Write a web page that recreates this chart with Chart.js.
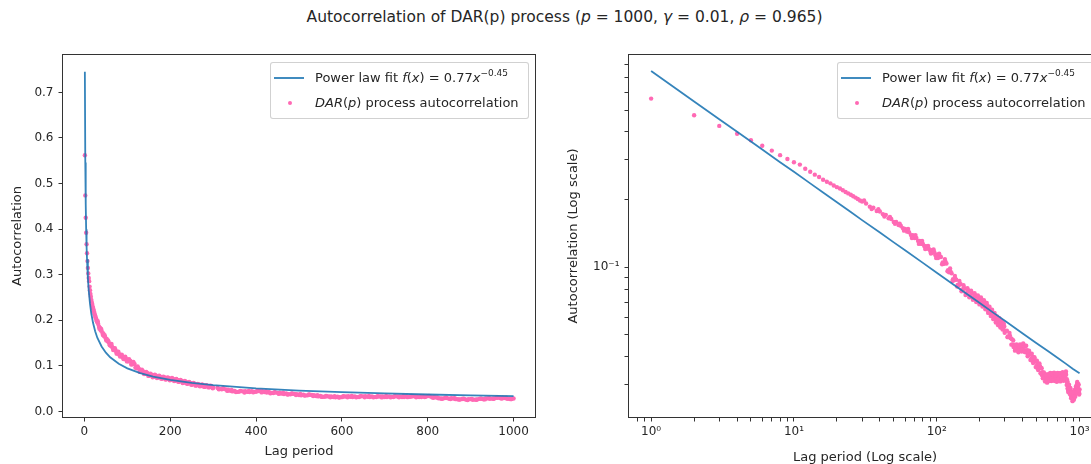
<!DOCTYPE html>
<html>
<head>
<meta charset="utf-8">
<script src="https://cdn.jsdelivr.net/npm/chart.js@4.4.0/dist/chart.umd.min.js"></script>
<style>
  html, body { margin: 0; padding: 0; background: #fff; }
  body { width: 1091px; height: 464px; overflow: hidden; position: relative; font-family: "DejaVu Sans", sans-serif; color: #262626; }
  canvas { position: absolute; top: 0; }
  #leftChart { left: 0; }
  #rightChart { left: 545px; }
  .suptitle { position: absolute; top: 8px; left: 0; width: 1129px; text-align: center; font-size: 15.5px; white-space: nowrap; }
  .legend { position: absolute; top: 62px; width: 257px; height: 55px; border: 1px solid rgba(204,204,204,0.9); border-radius: 3px; background: rgba(255,255,255,0.8); font-size: 13px; }
  .legend .row { position: absolute; left: 44px; white-space: nowrap; line-height: 15px; }
  .legend .swatch-line { position: absolute; left: 3px; width: 30px; height: 2px; background: #1f77b4; opacity: 0.85; }
  .legend .swatch-dot { position: absolute; left: 17px; width: 4px; height: 4px; border-radius: 50%; background: hotpink; }
  sup { font-size: 9px; vertical-align: 6px; line-height: 0; }
</style>
</head>
<body>
<div class="suptitle">Autocorrelation of DAR(p) process (<i>p</i> = 1000, <i>γ</i> = 0.01, <i>ρ</i> = 0.965)</div>
<canvas id="leftChart" width="545" height="464"></canvas>
<canvas id="rightChart" width="575" height="464"></canvas>

<div class="legend" style="left:270px">
  <div class="swatch-line" style="top:14px"></div>
  <div class="row" style="top:7px">Power law fit <i>f</i>(<i>x</i>) = 0.77<i>x</i><sup>−0.45</sup></div>
  <div class="swatch-dot" style="top:38px"></div>
  <div class="row" style="top:32px"><i>DAR</i>(<i>p</i>) process autocorrelation</div>
</div>
<div class="legend" style="left:837px">
  <div class="swatch-line" style="top:14px"></div>
  <div class="row" style="top:7px">Power law fit <i>f</i>(<i>x</i>) = 0.77<i>x</i><sup>−0.45</sup></div>
  <div class="swatch-dot" style="top:38px"></div>
  <div class="row" style="top:32px"><i>DAR</i>(<i>p</i>) process autocorrelation</div>
</div>

<script>
// power law fit
const fitLags = [1, 2, 3, 4, 5, 6, 8, 10, 13, 16, 20, 25, 30, 40, 50, 60, 80, 100, 130, 160, 200, 250, 300, 400, 500, 600, 700, 800, 900, 1000];
const fitValues = [0.745, 0.546, 0.455, 0.400, 0.362, 0.334, 0.293, 0.2655, 0.236, 0.215, 0.1946, 0.176, 0.162, 0.1426, 0.129, 0.119, 0.1046, 0.0946, 0.0841, 0.0767, 0.0694, 0.0627, 0.0578, 0.0508, 0.046, 0.0424, 0.0396, 0.0373, 0.0353, 0.0338];

// DAR(p) autocorrelation (sampled lags)
const darLags = [
  1, 2, 3, 4, 5, 6, 7, 8, 9, 10, 11, 12, 13, 14, 15, 16, 17, 18, 19, 20, 21, 22, 23, 24, 25, 26, 27, 28, 29, 30,
  32, 34, 36, 38, 40, 42, 44, 46, 48, 50, 52, 54, 56, 58, 60, 62, 64, 66, 68, 70, 72, 74, 76, 78, 80, 82, 84, 86, 88, 90, 92, 94, 96, 98, 100,
  105, 110, 115, 120, 125, 130, 135, 140, 145, 150, 155, 160, 165, 170, 175, 180, 185, 190, 195, 200,
  205, 210, 215, 220, 225, 230, 235, 240, 245, 250, 255, 260, 265, 270, 275, 280, 285, 290, 295, 300,
  310, 320, 330, 340, 350, 360, 370, 380, 390, 400, 410, 420, 430, 440, 450, 460, 470, 480, 490, 500,
  510, 520, 530, 540, 550, 560, 570, 580, 590, 600, 610, 620, 630, 640, 650, 660, 670, 680, 690, 700,
  710, 720, 730, 740, 750, 760, 770, 780, 790, 800, 810, 820, 830, 840, 850, 860, 870, 880, 890, 900,
  910, 920, 930, 940, 950, 960, 970, 980, 990, 1000
];
const darValues = [
  0.562, 0.474, 0.425, 0.392, 0.367, 0.347, 0.330, 0.315, 0.303, 0.293, 0.286, 0.274, 0.266, 0.258, 0.252, 0.245, 0.240, 0.236, 0.231, 0.227, 0.224, 0.220, 0.216, 0.213, 0.210, 0.207, 0.204, 0.201, 0.198, 0.196,
  0.192, 0.186, 0.184, 0.178, 0.177, 0.172, 0.171, 0.165, 0.164, 0.159, 0.159, 0.154, 0.153, 0.149, 0.148, 0.144, 0.143, 0.139, 0.139, 0.135, 0.135, 0.131, 0.131, 0.127, 0.127, 0.124, 0.124, 0.121, 0.121, 0.118, 0.119, 0.116, 0.117, 0.113, 0.114,
  0.112, 0.105, 0.106, 0.097, 0.0955, 0.0885, 0.089, 0.0835, 0.0848, 0.0795, 0.081, 0.0765, 0.079, 0.075, 0.077, 0.073, 0.075, 0.0712, 0.0735, 0.0698,
  0.0718, 0.0682, 0.0698, 0.0662, 0.0678, 0.0638, 0.0652, 0.0618, 0.0632, 0.0598, 0.0612, 0.0579, 0.0592, 0.0564, 0.0581, 0.0549, 0.0566, 0.0539, 0.0551, 0.0521,
  0.0522, 0.0489, 0.0484, 0.0454, 0.0453, 0.0432, 0.0442, 0.0431, 0.0446, 0.0435, 0.0444, 0.0427, 0.0428, 0.0406, 0.0410, 0.0392, 0.0399, 0.0379, 0.0383, 0.0364,
  0.0371, 0.0355, 0.0361, 0.0339, 0.0342, 0.0324, 0.0331, 0.0316, 0.0326, 0.0315, 0.0331, 0.0321, 0.0332, 0.0319, 0.0333, 0.0322, 0.0332, 0.0318, 0.0329, 0.0319,
  0.0333, 0.0320, 0.0330, 0.0319, 0.0334, 0.0324, 0.0333, 0.0316, 0.0334, 0.0338, 0.0312, 0.0308, 0.0286, 0.0296, 0.0281, 0.0287, 0.0269, 0.0276, 0.0260, 0.0271,
  0.0262, 0.0278, 0.0270, 0.0288, 0.0284, 0.0302, 0.0292, 0.0298, 0.0279, 0.0286
];

// in-between lags of the dense noisy tail
const darLagsMid = [
  102, 107, 112, 117, 122, 127, 132, 137, 142, 147, 152, 157, 162, 167, 172, 177, 182, 187, 192, 197,
  202, 207, 212, 217, 222, 227, 232, 237, 242, 247, 252, 257, 262, 267, 272, 277, 282, 287, 292, 297,
  315, 325, 335, 345, 355, 365, 375, 385, 395, 405, 415, 425, 435, 445, 455, 465, 475, 485, 495,
  505, 515, 525, 535, 545, 555, 565, 575, 585, 595, 605, 615, 625, 635, 645, 655, 665, 675, 685, 695,
  705, 715, 725, 735, 745, 755, 765, 775, 785, 795, 805, 815, 825, 835, 845, 855, 865, 875, 885, 895,
  905, 915, 925, 935, 945, 955, 965, 975, 985, 995
];
const darValuesMid = [
  0.110, 0.111, 0.1035, 0.104, 0.095, 0.094, 0.0875, 0.088, 0.0828, 0.084, 0.079, 0.0805, 0.0763, 0.0785, 0.0745, 0.0765, 0.0726, 0.0746, 0.071, 0.073,
  0.0695, 0.0713, 0.0677, 0.0693, 0.0657, 0.067, 0.0633, 0.0647, 0.0614, 0.0627, 0.0594, 0.0608, 0.0575, 0.0589, 0.0561, 0.0577, 0.0547, 0.0563, 0.0535, 0.0546,
  0.0493, 0.0497, 0.0480, 0.0442, 0.0431, 0.0448, 0.0446, 0.0427, 0.0429, 0.0451, 0.0445, 0.0418, 0.0407, 0.0418, 0.0411, 0.0385, 0.0380, 0.0390, 0.0382,
  0.0358, 0.0354, 0.0367, 0.0358, 0.0332, 0.0325, 0.0335, 0.0331, 0.0313, 0.0312, 0.0331, 0.0334, 0.0318, 0.0317, 0.0334, 0.0335, 0.0319, 0.0317, 0.0331, 0.0332,
  0.0318, 0.0318, 0.0333, 0.0332, 0.0318, 0.0321, 0.0336, 0.0333, 0.0317, 0.0322, 0.0333, 0.0318, 0.0290, 0.0284, 0.0295, 0.0291, 0.0271, 0.0265, 0.0275, 0.0272,
  0.0259, 0.0263, 0.0281, 0.0286, 0.0279, 0.0286, 0.0304, 0.0302, 0.0281, 0.0275
];

// points on the upper / lower edge of the scattered band
const darLagsEdge = [
  31, 35, 39, 43, 47, 51, 55, 59, 63, 67, 71, 75, 79, 83, 87, 91, 95, 99,
  104, 109, 114, 119, 124, 129, 134, 139, 144, 149, 154, 159, 164, 169, 174, 179, 184, 189, 194, 199,
  204, 209, 214, 219, 224, 229, 234, 239, 244, 249, 254, 259, 264, 269, 274, 279, 284, 289, 294, 299,
  313, 323, 333, 343, 353, 363, 373, 383, 393, 403, 413, 423, 433, 443, 453, 463, 473, 483, 493,
  503, 513, 523, 533, 543, 553, 563, 573, 583, 593, 603, 613, 623, 633, 643, 653, 663, 673, 683, 693,
  703, 713, 723, 733, 743, 753, 763, 773, 783, 793, 803, 813, 823, 833, 843, 853, 863, 873, 883, 893,
  903, 913, 923, 933, 943, 953, 963, 973, 983, 993
];
const darValuesEdge = [
  0.198, 0.1815, 0.181, 0.168, 0.1675, 0.156, 0.156, 0.1455, 0.148, 0.135, 0.139, 0.127, 0.131, 0.1205, 0.1245, 0.115, 0.120, 0.110,
  0.1149, 0.1032, 0.1087, 0.096, 0.0988, 0.0869, 0.0915, 0.0821, 0.0869, 0.0782, 0.0832, 0.0752, 0.0807, 0.0736, 0.0787, 0.0717, 0.0766, 0.070, 0.075, 0.0684,
  0.0734, 0.0669, 0.0714, 0.065, 0.0694, 0.0627, 0.0668, 0.0607, 0.0647, 0.0588, 0.0626, 0.0568, 0.0605, 0.0553, 0.0594, 0.054, 0.0578, 0.0529, 0.0564, 0.0511,
  0.0489, 0.051, 0.0453, 0.0474, 0.0426, 0.0454, 0.0419, 0.0454, 0.0422, 0.0459, 0.042, 0.0448, 0.0402, 0.0426, 0.0387, 0.0413, 0.0375, 0.0398, 0.036,
  0.0384, 0.0349, 0.0374, 0.0338, 0.0356, 0.0321, 0.0341, 0.0311, 0.0334, 0.0307, 0.0335, 0.0312, 0.0339, 0.0312, 0.0338, 0.0314, 0.034, 0.0312, 0.0337, 0.031,
  0.0339, 0.0313, 0.0338, 0.0311, 0.0339, 0.0315, 0.0342, 0.0313, 0.0336, 0.0317, 0.0344, 0.030, 0.0311, 0.0279, 0.0301, 0.0274, 0.029, 0.0262, 0.028, 0.0254,
  0.0277, 0.0258, 0.0284, 0.0266, 0.0295, 0.0279, 0.0309, 0.0285, 0.0302, 0.0272
];

// ticks
const linXTicks = [0, 200, 400, 600, 800, 1000];
const linYTicks = [0, 0.1, 0.2, 0.3, 0.4, 0.5, 0.6, 0.7];
const logXTicks = [0.8, 0.9, 1, 2, 3, 4, 5, 6, 7, 8, 9, 10, 20, 30, 40, 50, 60, 70, 80, 90, 100, 200, 300, 400, 500, 600, 700, 800, 900, 1000];
const logXLabels = { 1: '10⁰', 10: '10¹', 100: '10²', 1000: '10³' };
const logYTicks = [0.03, 0.04, 0.05, 0.06, 0.07, 0.08, 0.09, 0.1, 0.2, 0.3, 0.4, 0.5, 0.6, 0.7, 0.8];
const logYLabels = { 0.1: '10⁻¹' };

Chart.defaults.font.family = '"DejaVu Sans", sans-serif';
Chart.defaults.font.size = 12;
Chart.defaults.color = '#262626';

const toPoints = (xs, ys) => xs.map((x, i) => ({ x, y: ys[i] }));

// box around the plot area (matplotlib spines)
const frame = {
  id: 'frame',
  afterDatasetsDraw(chart) {
    const { ctx, chartArea: a } = chart;
    ctx.save();
    ctx.strokeStyle = '#333';
    ctx.lineWidth = 1;
    ctx.strokeRect(a.left - 0.5, a.top - 0.5, a.right - a.left + 1, a.bottom - a.top + 1);
    ctx.restore();
  }
};

function buildDatasets() {
  const darPoints = toPoints(darLags, darValues)
    .concat(toPoints(darLagsMid, darValuesMid))
    .concat(toPoints(darLagsEdge, darValuesEdge));
  return [
    { data: toPoints(fitLags, fitValues), showLine: true, borderColor: 'rgba(31,119,180,0.9)', borderWidth: 1.8, pointRadius: 0, order: 0 },
    { data: darPoints, showLine: false, backgroundColor: 'hotpink', borderWidth: 0, pointRadius: 2.2, order: 1 }
  ];
}

function axis(extra) {
  return Object.assign({
    grid: { drawOnChartArea: false, drawTicks: true, tickLength: 4.5, tickColor: '#333' },
    border: { display: false },
  }, extra);
}

function makeLeft() {
  new Chart(document.getElementById('leftChart'), {
    type: 'scatter',
    data: { datasets: buildDatasets() },
    options: {
      responsive: false, animation: false, events: [],
      layout: { padding: { top: 55, right: 10, left: 0, bottom: 0 } },
      plugins: { legend: { display: false }, tooltip: { enabled: false } },
      scales: {
        x: axis({
          type: 'linear', min: -49.95, max: 1049.95,
          afterBuildTicks: s => { s.ticks = linXTicks.map(v => ({ value: v })); },
          afterFit: s => { s.height = 47; },
          ticks: { autoSkip: false, maxRotation: 0, padding: 3, callback: v => String(v) },
          title: { display: true, text: 'Lag period', font: { size: 13, lineHeight: 1 }, padding: { top: 0, bottom: 6 } }
        }),
        y: axis({
          type: 'linear', min: -0.012, max: 0.782,
          afterBuildTicks: s => { s.ticks = linYTicks.map(v => ({ value: v })); },
          afterFit: s => { s.width = 63; },
          ticks: { autoSkip: false, padding: 5, callback: v => v.toFixed(1) },
          title: { display: true, text: 'Autocorrelation', font: { size: 13, lineHeight: 1 }, padding: { top: 11.5, bottom: 0 } }
        })
      }
    },
    plugins: [frame]
  });
}

function makeRight() {
  new Chart(document.getElementById('rightChart'), {
    type: 'scatter',
    data: { datasets: buildDatasets() },
    options: {
      responsive: false, animation: false, events: [],
      layout: { padding: { top: 55, right: 19, left: 0, bottom: 0 } },
      plugins: { legend: { display: false }, tooltip: { enabled: false } },
      scales: {
        x: axis({
          type: 'logarithmic', min: 0.708, max: 1413,
          afterBuildTicks: s => { s.ticks = logXTicks.map(v => ({ value: v })); },
          afterFit: s => { s.height = 47; },
          ticks: { autoSkip: false, maxRotation: 0, padding: 3, callback: v => logXLabels[v] || '' },
          title: { display: true, text: 'Lag period (Log scale)', font: { size: 13, lineHeight: 1 }, padding: { top: 0, bottom: 0 } }
        }),
        y: axis({
          type: 'logarithmic', min: 0.0216, max: 0.878,
          afterBuildTicks: s => { s.ticks = logYTicks.map(v => ({ value: v })); },
          afterFit: s => { s.width = 84; },
          ticks: { autoSkip: false, padding: 5, callback: v => logYLabels[v] || '' },
          title: { display: true, text: 'Autocorrelation (Log scale)', font: { size: 13, lineHeight: 1 }, padding: { top: 22.5, bottom: 0 } }
        })
      }
    },
    plugins: [frame]
  });
}

makeLeft();
makeRight();
</script>
</body>
</html>
